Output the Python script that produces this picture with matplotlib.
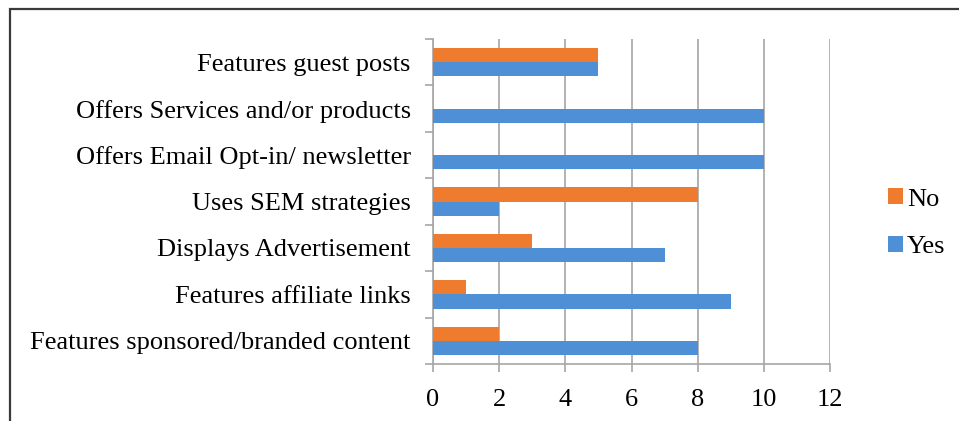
import matplotlib
matplotlib.use("Agg")
import matplotlib.pyplot as plt
import matplotlib.patches as mpatches
import numpy as np

categories = ["Features sponsored/branded content", "Features affiliate links",
              "Displays Advertisement", "Uses SEM strategies",
              "Offers Email Opt-in/ newsletter", "Offers Services and/or products",
              "Features guest posts"]
yes_vals = [8, 9, 7, 2, 10, 10, 5]
no_vals = [2, 1, 3, 8, 0, 0, 5]
xticks = [0, 2, 4, 6, 8, 10, 12]

plt.rcParams['font.family'] = ['Liberation Serif', 'DejaVu Serif']

W, H = 959, 421
fig = plt.figure(figsize=(W / 100, H / 100), dpi=100)
ax = fig.add_axes([433 / W, 1 - 364 / H, (830 - 433) / W, (364 - 39) / H])

y = np.arange(len(categories))
bh = 0.305
grid_c = "#a6a6a6"
ax.barh(y - bh / 2, yes_vals, height=bh, color="#4f8fd6", label="Yes", zorder=3)
ax.barh(y + bh / 2, no_vals, height=bh, color="#ef7b2e", label="No", zorder=3)

ax.set_xlim(0, 12)
ax.set_ylim(-0.5, len(categories) - 0.5)
ax.set_xticks(xticks)
ax.set_xticklabels([str(v) for v in xticks], fontsize=19)
ax.set_yticks(y)
ax.set_yticklabels(categories, fontsize=19)
ax.tick_params(axis='y', length=0, pad=16)
ax.tick_params(axis='x', length=6, color=grid_c, width=1.2, pad=12, direction='out')
ax.set_yticks(np.arange(-0.5, len(categories)), minor=True)
ax.tick_params(axis='y', which='minor', length=6, color=grid_c, width=1.2)
ax.xaxis.grid(True, color=grid_c, linewidth=1.2, zorder=0)
ax.set_axisbelow(True)
for s in ['top', 'right']:
    ax.spines[s].set_visible(False)
for s in ['left', 'bottom']:
    ax.spines[s].set_color(grid_c)
    ax.spines[s].set_linewidth(1.2)

handles, labels = ax.get_legend_handles_labels()
leg = fig.legend(handles[::-1], labels[::-1], loc='upper left',
                 bbox_to_anchor=(870 / W, 1 - 170 / H), frameon=False,
                 fontsize=19, handlelength=0.55, handleheight=0.55,
                 handletextpad=0.15, labelspacing=0.95, borderpad=0.2)

rect = mpatches.Rectangle((9.5 / W, -0.1), 1.2, 1 - 9.5 / H + 0.1,
                          transform=fig.transFigure, fill=False,
                          edgecolor="#3a3a3a", linewidth=1.6, clip_on=False)
fig.patches.append(rect)

fig.savefig("out.png", dpi=100)
